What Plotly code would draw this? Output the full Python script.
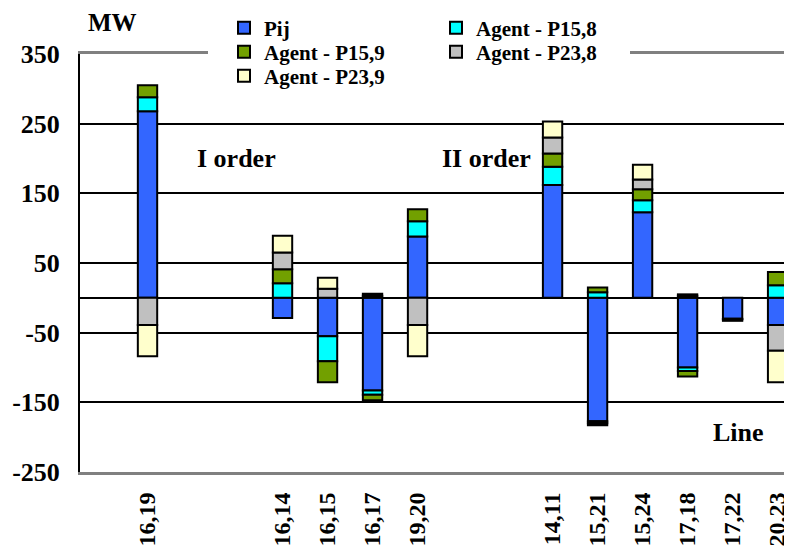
import plotly.graph_objects as go

# ---- data ----
lines = ["16,19", "16,14", "16,15", "16,17", "19,20",
         "14,11", "15,21", "15,24", "17,18", "17,22", "20,23"]
axis_slots = ["16,19", "gap1", "gap2", "16,14", "16,15", "16,17", "19,20",
              "gap3", "gap4", "14,11", "15,21", "15,24", "17,18", "17,22", "20,23"]
pij =   [268, -29, -55, -133, 88, 162, -177, 123, -100, -30, -39]
p15_8 = [20, 21, -36, -6, 22, 26, 8, 17, -5, -1, 18]
p15_9 = [17, 20, -30, -8, 17, 19, 7, 16, -8, -2, 19]
p23_8 = [-39, 24, 13, 3, -39, 23, -3, 14, 3, None, -37]
p23_9 = [-45, 24, 16, 3, -45, 23, -3, 21, 2, None, -45]
y_ticks = [350, 250, 150, 50, -50, -150, -250]
y_tick_text = ["350", "250", "150", "50", "-50", "-150", "-250"]

series = [
    ("Pij", pij, "#3366FF", "legend"),
    ("Agent - P15,8", p15_8, "#00FFFF", "legend"),
    ("Agent - P15,9", p15_9, "#72A000", "legend2"),
    ("Agent - P23,8", p23_8, "#C0C0C0", "legend2"),
    ("Agent - P23,9", p23_9, "#FFFFCC", "legend3"),
]

FONT = "Liberation Serif"
W, H = 784, 549          # page body has an 8px margin
OFF = 8

fig = go.Figure()
for name, vals, col, leg in series:
    fig.add_trace(go.Bar(
        x=lines, y=vals, name=name, legend=leg,
        marker=dict(color=col, line=dict(color="black", width=2)),
    ))

def label(text, px, py, size=26):
    return dict(text=text, xref="paper", yref="paper",
                x=(px - 80) / 712, y=(472 - py) / 418,
                xanchor="center", yanchor="middle", showarrow=False,
                font=dict(family=FONT, size=size, color="black", weight="bold"))

def legend_row(py):
    return dict(
        orientation="h", xref="container", yref="container",
        x=(224 - OFF) / W, xanchor="left",
        y=1 - (py - OFF) / H, yanchor="middle",
        entrywidth=167, entrywidthmode="pixels",
        font=dict(family=FONT, size=21, color="black", weight="bold"),
        bgcolor="rgba(0,0,0,0)", traceorder="normal",
    )

fig.update_layout(
    width=W, height=H,
    margin=dict(l=80 - OFF, r=0, t=54 - OFF, b=H - (472 - OFF), autoexpand=False),
    plot_bgcolor="white", paper_bgcolor="white",
    barmode="relative", bargap=0.57,
    font=dict(family=FONT, size=24, color="black", weight="bold"),
    legend=legend_row(28),
    legend2=legend_row(52),
    legend3=legend_row(76),
    xaxis=dict(
        type="category", categoryorder="array", categoryarray=axis_slots,
        tickmode="array", tickvals=lines, ticktext=lines,
        range=[-1.5, 14.32], tickangle=-90, ticks="",
        showgrid=False, showline=True, linecolor="#808080", linewidth=3,
        mirror=True, ticklabelstandoff=8, automargin=False,
        tickfont=dict(family=FONT, size=24, color="black", weight="bold"),
    ),
    yaxis=dict(
        range=[-250, 350], tickmode="array", tickvals=y_ticks, ticktext=y_tick_text,
        showgrid=True, gridcolor="black", gridwidth=1.5,
        zeroline=True, zerolinecolor="black", zerolinewidth=1.5,
        showline=True, linecolor="black", linewidth=2,
        ticks="inside", ticklen=9, tickcolor="black", tickwidth=2,
        ticklabelstandoff=13, automargin=False,
        tickfont=dict(family=FONT, size=26, color="black", weight="bold"),
    ),
    shapes=[dict(type="rect", xref="paper", yref="paper",
                 x0=(208 - 80) / 712, x1=(630 - 80) / 712,
                 y0=0.985, y1=1.015, fillcolor="white", line=dict(width=0),
                 layer="above")],
    annotations=[
        label("MW", 112, 23, size=25),
        label("I order", 236, 158),
        label("II order", 486, 158),
        label("Line", 738, 432),
    ],
)

fig.write_html("out.html")
